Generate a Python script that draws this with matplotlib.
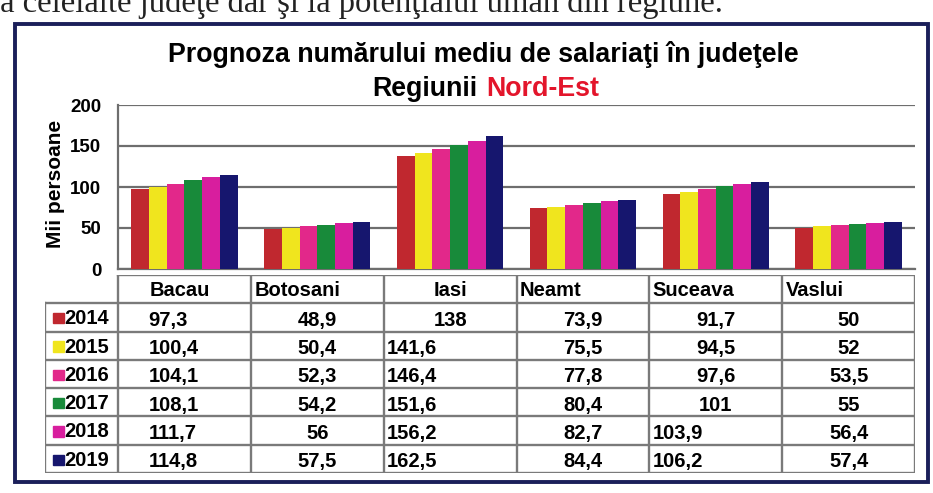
import matplotlib
matplotlib.use("Agg")
import matplotlib.pyplot as plt
from matplotlib.patches import Rectangle
from matplotlib.lines import Line2D
import numpy as np

judete = ["Bacau", "Botosani", "Iasi", "Neamt", "Suceava", "Vaslui"]
ani = ["2014", "2015", "2016", "2017", "2018", "2019"]
v2014 = [97.3, 48.9, 138, 73.9, 91.7, 50]
v2015 = [100.4, 50.4, 141.6, 75.5, 94.5, 52]
v2016 = [104.1, 52.3, 146.4, 77.8, 97.6, 53.5]
v2017 = [108.1, 54.2, 151.6, 80.4, 101, 55]
v2018 = [111.7, 56, 156.2, 82.7, 103.9, 56.4]
v2019 = [114.8, 57.5, 162.5, 84.4, 106.2, 57.4]
serii = [v2014, v2015, v2016, v2017, v2018, v2019]
culori = ["#C0282F", "#F0E51E", "#E2288A", "#188A3A", "#D81E9E", "#16166E"]
yticks = [0, 50, 100, 150, 200]

W, H = 933, 493
plt.rcParams["font.family"] = ["Liberation Sans", "DejaVu Sans"]
fig = plt.figure(figsize=(W / 100, H / 100), dpi=100)
fig.patch.set_facecolor("white")

def fx(px):
    return px / W

def fy(py):
    return 1 - py / H

# text of the page above the frame (cut off by the scan)
fig.text(fx(723), fy(12), "la celelalte judeţe dar şi la potenţialul uman din regiune.",
         family="Liberation Serif", fontsize=23.5, ha="right", va="baseline", color="#222222")

# frame
fig.add_artist(Rectangle((fx(15), fy(482)), fx(928) - fx(15), fy(24) - fy(482),
                         transform=fig.transFigure, fill=False, lw=2.8,
                         edgecolor="#1B1F5A"))

# title
tfs = 19.3
fig.text(fx(483), fy(62), "Prognoza numărului mediu de salariaţi în judeţele",
         fontsize=tfs, fontweight="bold", ha="center", va="baseline")
fig.text(fx(477), fy(96), "Regiunii", fontsize=tfs, fontweight="bold",
         ha="right", va="baseline")
fig.text(fx(486), fy(96), "Nord-Est", fontsize=tfs, fontweight="bold",
         ha="left", va="baseline", color="#E3152B")

# bar chart
ax = fig.add_axes([fx(118), fy(269), fx(915) - fx(118), fy(105) - fy(269)])
x = np.arange(len(judete))
bw = 0.8 / len(ani)
for k, (an, vals, c) in enumerate(zip(ani, serii, culori)):
    ax.bar(x - 0.4 + bw * (k + 0.5), vals, width=bw, color=c, zorder=3, label=an)
ax.set_xlim(-0.5, len(judete) - 0.5)
ax.set_ylim(0, 200)
ax.set_yticks(yticks)
ax.set_xticks([])
ax.tick_params(axis="y", length=0, pad=12, labelsize=13.5)
for t in ax.get_yticklabels():
    t.set_fontweight("bold")
ax.grid(axis="y", color="#6e6e6e", lw=1.6, zorder=0)
for s in ["top", "right"]:
    ax.spines[s].set_visible(False)
for s in ["left", "bottom"]:
    ax.spines[s].set_color("#6e6e6e")
    ax.spines[s].set_linewidth(1.6)
ax.set_ylabel("Mii persoane", fontsize=15, fontweight="bold")
ax.yaxis.set_label_coords(-0.066, 0.52)

# data table under the chart, columns aligned with the categories
lab_w = 0.55
n = len(ani)
fs = 14.5
tax = fig.add_axes([fx(45), fy(473), fx(915) - fx(45), fy(275) - fy(473)])
tax.set_xlim(-0.5 - lab_w, len(judete) - 0.5)
tax.set_ylim(n + 1, 0)
tax.axis("off")
lc = "#7a7a7a"
tax.add_line(Line2D([-0.5, len(judete) - 0.5], [0, 0], color=lc, lw=1.7))
for r in range(1, n + 2):
    tax.add_line(Line2D([-0.5 - lab_w, len(judete) - 0.5], [r, r], color=lc, lw=1.7))
tax.add_line(Line2D([-0.5 - lab_w, -0.5 - lab_w], [1, n + 1], color=lc, lw=1.7))
for i in range(len(judete) + 1):
    tax.add_line(Line2D([i - 0.5, i - 0.5], [0, n + 1], color=lc, lw=1.7))

# header
head_align = ["l2", "l", "c", "l", "l", "l"]
for i, (j, a) in enumerate(zip(judete, head_align)):
    if a == "c":
        tax.text(i, 0.55, j, ha="center", va="center", fontsize=fs, fontweight="bold")
    else:
        off = 0.24 if a == "l2" else 0.025
        tax.text(i - 0.5 + off, 0.55, j, ha="left", va="center", fontsize=fs,
                 fontweight="bold")

# row labels with legend keys
for r, (an, c) in enumerate(zip(ani, culori)):
    yy = r + 1.55
    tax.add_patch(Rectangle((-0.5 - lab_w + 0.06, yy - 0.2), 0.08, 0.36,
                            color=c, clip_on=False))
    tax.text(-0.5 - lab_w + 0.145, yy, an, ha="left", va="center", fontsize=fs,
             fontweight="bold")

# cell alignment as in the original table
cell_align = [
    ["l2"] * 6,
    ["c"] * 6,
    ["c", "l", "l", "l", "l", "l"],
    ["c"] * 6,
    ["c", "c", "c", "c", "l", "l"],
    ["c"] * 6,
]
for r, vals in enumerate(serii):
    for i, v in enumerate(vals):
        s = ("%g" % v).replace(".", ",")
        a = cell_align[i][r]
        yy = r + 1.6
        if a == "c":
            tax.text(i, yy, s, ha="center", va="center", fontsize=fs, fontweight="bold")
        else:
            off = 0.23 if a == "l2" else 0.025
            tax.text(i - 0.5 + off, yy, s, ha="left", va="center", fontsize=fs,
                     fontweight="bold")

fig.savefig("out.png", dpi=100)
